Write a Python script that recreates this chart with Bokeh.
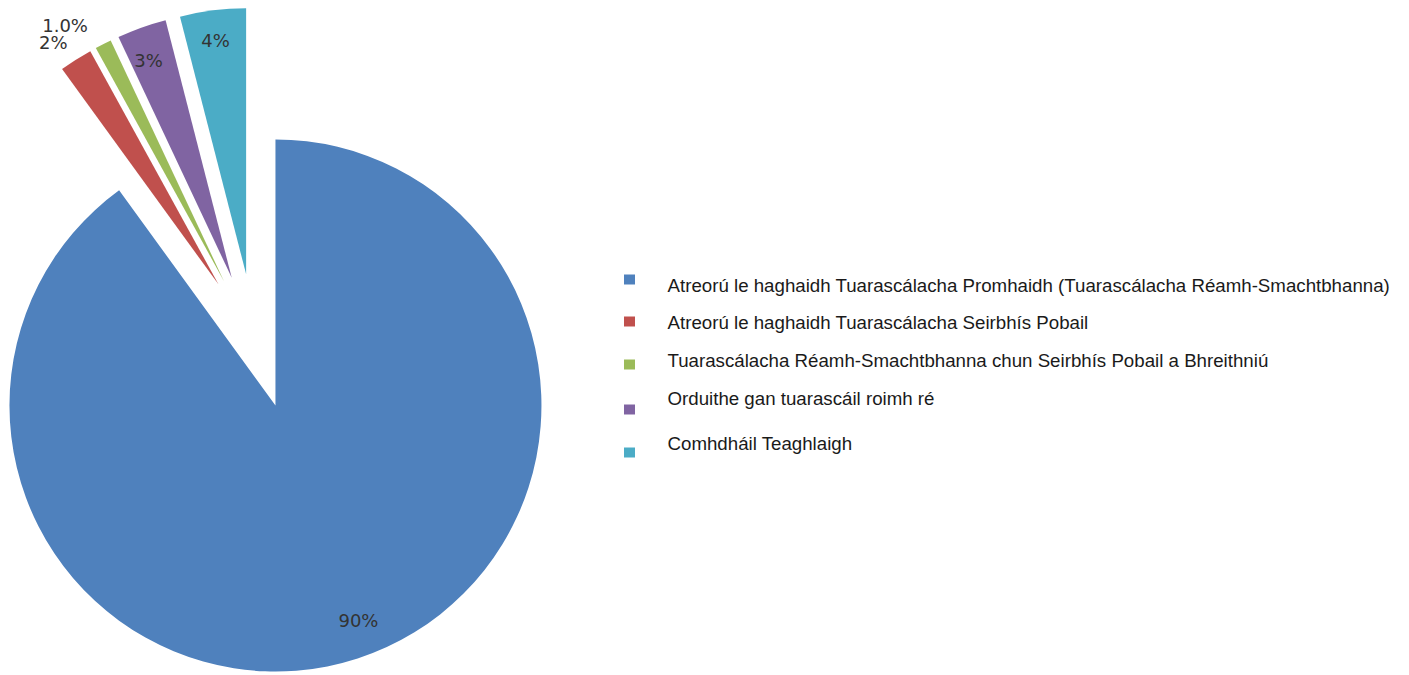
import math
from bokeh.plotting import figure
from bokeh.models import Range1d
from bokeh.core.properties import value
from bokeh.embed import file_html
from bokeh.resources import INLINE

# ---- data ----
categories = [
    "Atreorú le haghaidh Tuarascálacha Promhaidh (Tuarascálacha Réamh-Smachtbhanna)",
    "Atreorú le haghaidh Tuarascálacha Seirbhís Pobail",
    "Tuarascálacha Réamh-Smachtbhanna chun Seirbhís Pobail a Bhreithniú",
    "Orduithe gan tuarascáil roimh ré",
    "Comhdháil Teaghlaigh",
]
values = [90, 2, 1, 3, 4]
labels = ["90%", "2%", "1.0%", "3%", "4%"]
colors = ["#4F81BD", "#C0504D", "#9BBB59", "#8064A2", "#4BACC6"]

# ---- layout (screen pixels) ----
W, H = 1409, 675
PIE_CX, PIE_CY = 254.1, 340.8     # pie centre on screen
RADIUS = 266
EXPLODE = 67.5
LABEL_DIST = [298, 360, 368, 300, 303]
LABEL_ANG_SHIFT = [2.4, 1.6, 4.0, 0.9, 0.2]
LEG_SQ_X = 629
LEG_SQ_Y = [279, 321, 364, 409, 452]
LEG_TX_X = 667
LEG_TX_Y = [285, 322, 360, 398, 443]   # text centres


def to_x(sx):
    return sx


def to_y(sy):
    return H - sy


p = figure(width=W, height=H, x_range=Range1d(0, W), y_range=Range1d(0, H),
           output_backend="svg", toolbar_location=None,
           x_axis_type=None, y_axis_type=None, min_border=0,
           outline_line_color=None, background_fill_color="white",
           border_fill_color="white")

total = float(sum(values))
cx, cy = to_x(PIE_CX), to_y(PIE_CY)
xs, ys, starts, ends, lx, ly = [], [], [], [], [], []
cum = 0.0
for i, v in enumerate(values):
    s_cw = cum / total * 360.0
    e_cw = (cum + v) / total * 360.0
    cum += v
    bis = math.radians(90.0 - (s_cw + e_cw) / 2.0)
    xs.append(cx + EXPLODE * math.cos(bis))
    ys.append(cy + EXPLODE * math.sin(bis))
    starts.append(math.radians(90.0 - e_cw))
    ends.append(math.radians(90.0 - s_cw))
    la = bis + math.radians(LABEL_ANG_SHIFT[i])
    lx.append(cx + LABEL_DIST[i] * math.cos(la))
    ly.append(cy + LABEL_DIST[i] * math.sin(la))

p.wedge(x=xs, y=ys, radius=RADIUS, start_angle=starts, end_angle=ends,
        fill_color=colors, line_color=None)

p.text(x=lx, y=ly, text=labels, text_align="center", text_baseline="middle",
       text_font=value("DejaVu Sans"), text_font_size="18px",
       text_color="#333333")

# legend
p.rect(x=[to_x(LEG_SQ_X)] * len(categories), y=[to_y(v) for v in LEG_SQ_Y],
       width=11, height=10, fill_color=colors, line_color=None)
p.text(x=[to_x(LEG_TX_X)] * len(categories), y=[to_y(v) for v in LEG_TX_Y],
       text=categories, text_align="left", text_baseline="middle",
       text_font=value("Liberation Sans"), text_font_size="18.7px",
       text_color="#1a1a1a")

open("out.html", "w").write(file_html(p, INLINE))
